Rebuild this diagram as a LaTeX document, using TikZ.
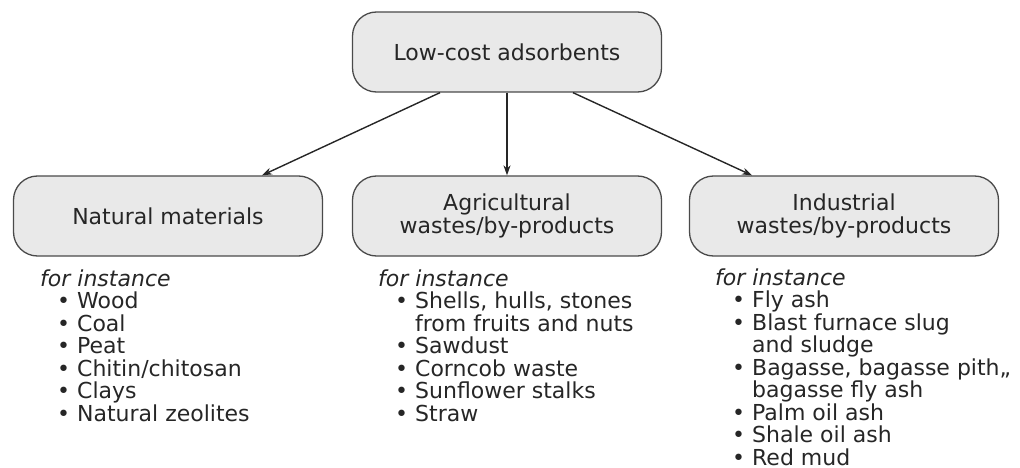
\documentclass[tikz,border=0pt]{standalone}
\usepackage{fontspec}
\setmainfont{DejaVu Sans}
\usepackage{tikz}
\usetikzlibrary{positioning,arrows.meta,shapes}
\definecolor{boxgray}{HTML}{E9E9E9}
\definecolor{boxline}{HTML}{4A4A4A}
\definecolor{inkgray}{HTML}{262626}
\def\itm{\hspace*{17pt}\textbullet\ }
\def\cnt{\hspace*{17pt}\hphantom{\textbullet\ }}

\begin{document}
\begin{tikzpicture}[>={Stealth[width=7pt,length=10pt]}, box/.style={draw=boxline, fill=boxgray, line width=1.3pt, rounded corners=24pt, minimum width=309pt, minimum height=80pt, inner sep=0pt, align=center, text=inkgray, font=\fontsize{22}{22.5}\selectfont}, examples/.style={anchor=base west, inner sep=0pt, align=left, text=inkgray, font=\fontsize{22}{22.5}\selectfont}, link/.style={->, draw=inkgray, line width=1.4pt}]
	\useasboundingbox (0pt, 0pt) rectangle (1020pt, -468pt);
	\draw (507.0pt, -52.0pt)node[box](top){Low-cost adsorbents};
	\draw (168.0pt, -216.0pt)node[box](natural){Natural materials};
	\draw (507.0pt, -216.0pt)node[box](agri){Agricultural\\wastes/by-products};
	\draw (844.0pt, -216.0pt)node[box](indus){Industrial\\wastes/by-products};
	\draw[link] ([xshift=-67pt]top.south) -- ([xshift=94pt]natural.north);
	\draw[link] (top.south) -- (agri.north);
	\draw[link] ([xshift=66pt]top.south) -- ([xshift=-92pt]indus.north);
	% base of a list node is the baseline of its last line
	\draw (40.0pt, -421.0pt)node[examples](natlist){\textit{for instance}\\\itm Wood\\\itm Coal\\\itm Peat\\\itm Chitin/chitosan\\\itm Clays\\\itm Natural zeolites};
	\draw (378.0pt, -421.0pt)node[examples](agrilist){\textit{for instance}\\\itm Shells, hulls, stones\\\cnt from fruits and nuts\\\itm Sawdust\\\itm Corncob waste\\\itm Sunflower stalks\\\itm Straw};
	\draw (715.0pt, -465.0pt)node[examples](induslist){\textit{for instance}\\\itm Fly ash\\\itm Blast furnace slug\\\cnt and sludge\\\itm Bagasse, bagasse pith,,\\\cnt bagasse fly ash\\\itm Palm oil ash\\\itm Shale oil ash\\\itm Red mud};
\end{tikzpicture}
\end{document}
